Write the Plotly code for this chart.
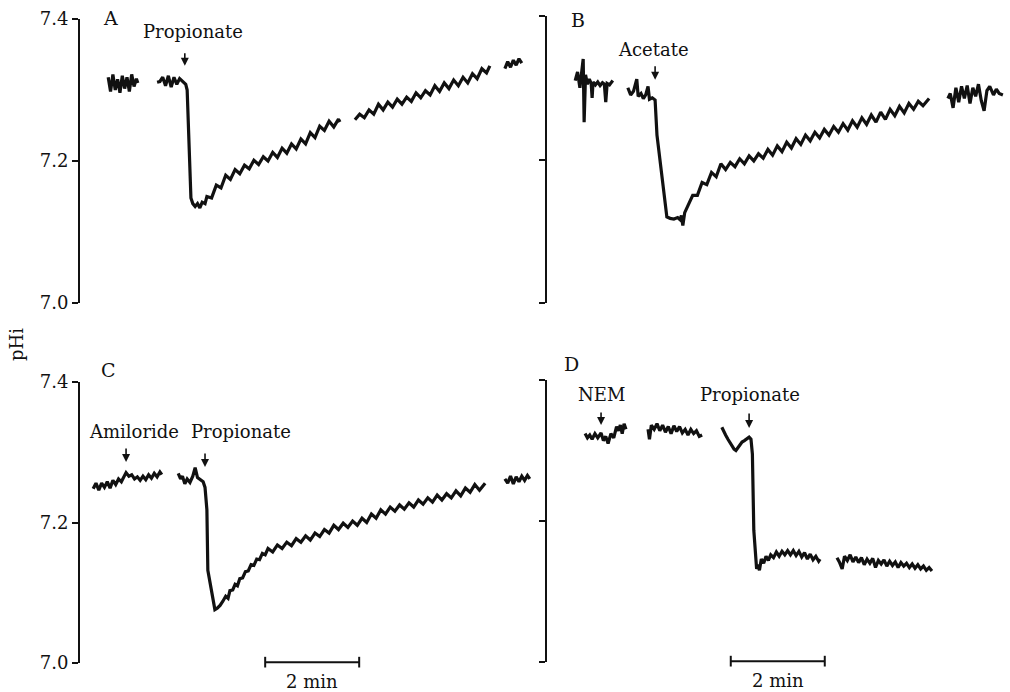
import plotly.graph_objects as go

# ---------------- data (time in min, pHi) ----------------
# Panel A : Propionate
A1_t = [0.60, 0.65, 0.70, 0.75, 0.80, 0.85, 0.90, 0.95, 1.00, 1.05, 1.10, 1.15, 1.20, 1.23]
A1_ph = [7.318, 7.298, 7.322, 7.300, 7.315, 7.296, 7.320, 7.302, 7.318, 7.298, 7.322, 7.305, 7.316, 7.310]
A2_t = [1.64, 1.70, 1.76, 1.82, 1.88, 1.94, 2.00, 2.06, 2.12, 2.19, 2.25, 2.28, 2.30, 2.32, 2.34, 2.36,
        2.40, 2.45, 2.50, 2.55, 2.60, 2.66,
        2.70, 2.80, 2.90, 3.00, 3.10, 3.20, 3.30, 3.40, 3.50, 3.60, 3.70, 3.80, 3.90, 4.00, 4.10, 4.20,
        4.30, 4.40, 4.50, 4.60, 4.70, 4.80, 4.90, 5.00, 5.10, 5.20, 5.30, 5.40, 5.50, 5.53]
A2_ph = [7.311, 7.312, 7.318, 7.306, 7.320, 7.304, 7.318, 7.308, 7.316, 7.312, 7.308, 7.300, 7.262, 7.215,
         7.162, 7.148, 7.140, 7.136, 7.140, 7.134, 7.142, 7.140,
         7.150, 7.148, 7.166, 7.162, 7.180, 7.174, 7.188, 7.182, 7.194, 7.189, 7.201, 7.195, 7.206, 7.200,
         7.212, 7.205, 7.218, 7.211, 7.224, 7.217, 7.231, 7.224, 7.240, 7.233, 7.249, 7.243, 7.256, 7.248,
         7.259, 7.255]
A3_t = [5.85, 5.95, 6.05, 6.15, 6.25, 6.35, 6.45, 6.55, 6.65, 6.75, 6.85, 6.95, 7.05, 7.15, 7.25, 7.35,
        7.45, 7.55, 7.65, 7.75, 7.85, 7.95, 8.05, 8.15, 8.25, 8.35, 8.45, 8.55, 8.65, 8.72]
A3_ph = [7.258, 7.266, 7.261, 7.272, 7.266, 7.280, 7.272, 7.283, 7.276, 7.287, 7.280, 7.290, 7.284, 7.296,
         7.289, 7.299, 7.293, 7.306, 7.298, 7.310, 7.302, 7.314, 7.306, 7.318, 7.310, 7.323, 7.316, 7.330,
         7.324, 7.334]
A4_t = [9.04, 9.10, 9.16, 9.22, 9.28, 9.34, 9.40]
A4_ph = [7.330, 7.340, 7.332, 7.342, 7.335, 7.344, 7.338]

# Panel B : Acetate
B1_t = [0.60, 0.65, 0.70, 0.74, 0.77, 0.79, 0.82, 0.86, 0.90, 0.94, 0.96, 0.98, 1.03, 1.08, 1.13, 1.18,
        1.22, 1.25, 1.28, 1.33, 1.40]
B1_ph = [7.310, 7.322, 7.300, 7.330, 7.340, 7.252, 7.318, 7.305, 7.312, 7.306, 7.286, 7.308, 7.304, 7.308,
         7.303, 7.307, 7.305, 7.280, 7.306, 7.304, 7.310]
B2_t = [1.72, 1.78, 1.84, 1.91, 1.94, 2.00, 2.05, 2.10, 2.15, 2.18, 2.24, 2.30, 2.34, 2.40, 2.45, 2.50,
        2.55, 2.62, 2.70, 2.78, 2.83, 2.86, 2.89, 2.93,
        3.00, 3.10, 3.20, 3.30, 3.40, 3.50, 3.60, 3.70, 3.80, 3.90, 4.00, 4.10, 4.20, 4.30, 4.40, 4.50,
        4.60, 4.70, 4.80, 4.90, 5.00, 5.10, 5.20, 5.30, 5.40, 5.50, 5.60, 5.70, 5.80, 5.90, 6.00, 6.10,
        6.20, 6.30, 6.40, 6.50, 6.60, 6.70, 6.80, 6.90, 7.00, 7.10, 7.20, 7.30, 7.40, 7.50, 7.60, 7.70,
        7.80, 7.90, 8.00, 8.13]
B2_ph = [7.300, 7.290, 7.295, 7.312, 7.288, 7.292, 7.285, 7.290, 7.302, 7.284, 7.286, 7.283, 7.234, 7.200,
         7.171, 7.140, 7.120, 7.118, 7.117, 7.119, 7.116, 7.122, 7.108, 7.126,
         7.135, 7.150, 7.150, 7.168, 7.165, 7.182, 7.176, 7.194, 7.186, 7.196, 7.190, 7.201, 7.194, 7.205,
         7.198, 7.208, 7.202, 7.214, 7.206, 7.219, 7.211, 7.224, 7.216, 7.229, 7.221, 7.234, 7.226, 7.238,
         7.230, 7.242, 7.234, 7.246, 7.238, 7.250, 7.241, 7.254, 7.245, 7.258, 7.249, 7.262, 7.252, 7.266,
         7.256, 7.270, 7.261, 7.274, 7.265, 7.278, 7.270, 7.281, 7.275, 7.285]
B3_t = [8.53, 8.58, 8.64, 8.70, 8.76, 8.82, 8.88, 8.94, 9.00, 9.06, 9.12, 9.18, 9.24, 9.30, 9.36, 9.42,
        9.50, 9.56, 9.62, 9.70]
B3_ph = [7.285, 7.292, 7.272, 7.300, 7.280, 7.302, 7.285, 7.303, 7.278, 7.300, 7.288, 7.305, 7.282, 7.268,
         7.296, 7.302, 7.290, 7.298, 7.292, 7.290]

# Panel C : Amiloride then Propionate
C1_t = [0.28, 0.34, 0.40, 0.46, 0.52, 0.58, 0.64, 0.70, 0.76, 0.82, 0.88, 0.94, 0.98, 1.04, 1.10, 1.16,
        1.22, 1.28, 1.34, 1.40, 1.46, 1.52, 1.58, 1.64, 1.70, 1.74]
C1_ph = [7.248, 7.256, 7.246, 7.256, 7.250, 7.258, 7.249, 7.260, 7.254, 7.262, 7.258, 7.266, 7.271, 7.266,
         7.268, 7.262, 7.265, 7.260, 7.266, 7.261, 7.268, 7.263, 7.270, 7.265, 7.272, 7.268]
C2_t = [2.09, 2.14, 2.18, 2.23, 2.28, 2.34, 2.40, 2.45, 2.50, 2.55, 2.62, 2.66, 2.70, 2.72, 2.77, 2.82,
        2.87, 2.92, 2.98, 3.04, 3.10, 3.15, 3.19, 3.25, 3.30, 3.35, 3.40, 3.46, 3.52, 3.58, 3.64, 3.70,
        3.76, 3.82, 3.88, 3.94, 4.00,
        4.10, 4.20, 4.30, 4.40, 4.50, 4.60, 4.70, 4.80, 4.90, 5.00, 5.10, 5.20, 5.30, 5.40, 5.50, 5.60,
        5.70, 5.80, 5.90, 6.00, 6.10, 6.20, 6.30, 6.40, 6.50, 6.60, 6.70, 6.80, 6.90, 7.00, 7.10, 7.20,
        7.30, 7.40, 7.50, 7.60, 7.70, 7.80, 7.90, 8.00, 8.10, 8.20, 8.30, 8.40, 8.50, 8.62]
C2_ph = [7.270, 7.262, 7.266, 7.255, 7.262, 7.257, 7.266, 7.278, 7.264, 7.262, 7.258, 7.250, 7.218, 7.132,
         7.114, 7.094, 7.076, 7.078, 7.082, 7.088, 7.095, 7.092, 7.103, 7.104, 7.112, 7.110, 7.120, 7.121,
         7.130, 7.131, 7.140, 7.139, 7.148, 7.147, 7.156, 7.154, 7.163,
         7.158, 7.168, 7.163, 7.172, 7.167, 7.177, 7.172, 7.181, 7.175, 7.185,
         7.180, 7.190, 7.185, 7.196, 7.190, 7.199, 7.193, 7.202, 7.196, 7.206,
         7.200, 7.212, 7.206, 7.218, 7.212, 7.222, 7.216, 7.225, 7.219, 7.228,
         7.222, 7.232, 7.226, 7.235, 7.229, 7.239, 7.232, 7.241, 7.235, 7.245,
         7.238, 7.249, 7.243, 7.254, 7.246, 7.256]
C3_t = [9.04, 9.10, 9.16, 9.22, 9.28, 9.34, 9.40, 9.46, 9.52, 9.57]
C3_ph = [7.262, 7.256, 7.266, 7.255, 7.265, 7.258, 7.266, 7.260, 7.267, 7.262]

# Panel D : NEM then Propionate
D1_t = [0.81, 0.86, 0.91, 0.96, 1.02, 1.08, 1.15, 1.20, 1.25, 1.30, 1.36, 1.42, 1.48, 1.52, 1.56, 1.60,
        1.64, 1.68]
D1_ph = [7.324, 7.318, 7.322, 7.316, 7.324, 7.318, 7.325, 7.314, 7.320, 7.310, 7.324, 7.318, 7.334, 7.328,
         7.336, 7.324, 7.338, 7.330]
D2_t = [2.15, 2.18, 2.22, 2.28, 2.34, 2.40, 2.46, 2.52, 2.58, 2.64, 2.70, 2.76, 2.82, 2.88, 2.94, 3.00,
        3.06, 3.12, 3.18, 3.24, 3.30]
D2_ph = [7.330, 7.316, 7.336, 7.330, 7.338, 7.328, 7.336, 7.326, 7.334, 7.324, 7.335, 7.327, 7.334, 7.325,
         7.330, 7.322, 7.330, 7.324, 7.328, 7.320, 7.322]
D3_t = [3.72, 3.76, 3.80, 3.85, 3.89, 3.94, 3.98, 4.02, 4.07, 4.11, 4.15, 4.20, 4.25, 4.30, 4.34, 4.37,
        4.40, 4.43, 4.46, 4.49, 4.52, 4.56, 4.61, 4.66, 4.71, 4.76, 4.82, 4.88, 4.94, 5.00, 5.06, 5.12,
        5.18, 5.24, 5.30, 5.36, 5.42, 5.48, 5.54, 5.60, 5.66, 5.72, 5.78, 5.81]
D3_ph = [7.333, 7.326, 7.322, 7.316, 7.312, 7.305, 7.302, 7.300, 7.304, 7.308,
         7.312, 7.314, 7.316, 7.319, 7.316, 7.295, 7.187, 7.150, 7.132, 7.138,
         7.130, 7.146, 7.140, 7.150, 7.144, 7.152, 7.148, 7.156, 7.150, 7.157,
         7.152, 7.158, 7.152, 7.158, 7.151, 7.157, 7.149, 7.155, 7.146, 7.153,
         7.145, 7.150, 7.143, 7.146]
D4_t = [6.17, 6.22, 6.28, 6.33, 6.39, 6.45, 6.51, 6.57, 6.63, 6.69, 6.75, 6.81, 6.87, 6.93, 6.99, 7.05,
        7.11, 7.17, 7.23, 7.29, 7.35, 7.41, 7.47, 7.53, 7.59, 7.65, 7.71, 7.77, 7.83, 7.89, 7.95, 8.01,
        8.07, 8.13, 8.19]
D4_ph = [7.148, 7.142, 7.132, 7.150, 7.144, 7.152, 7.142, 7.149, 7.141, 7.148,
         7.138, 7.146, 7.140, 7.147, 7.134, 7.144, 7.139, 7.145, 7.136, 7.143,
         7.137, 7.142, 7.134, 7.141, 7.136, 7.140, 7.134, 7.139, 7.133, 7.138,
         7.132, 7.136, 7.130, 7.134, 7.129]

y_ticks = [7.0, 7.2, 7.4]
y_ticktext = ["7.0", "7.2", "7.4"]
scale_bar_min = 2

panel_letters = ["A", "B", "C", "D"]

# ---------------- figure ----------------
SERIF = "DejaVu Serif"
INK = "#111111"

panels = [
    ("x", "y", [(A1_t, A1_ph), (A2_t, A2_ph), (A3_t, A3_ph), (A4_t, A4_ph)]),
    ("x2", "y2", [(B1_t, B1_ph), (B2_t, B2_ph), (B3_t, B3_ph)]),
    ("x3", "y3", [(C1_t, C1_ph), (C2_t, C2_ph), (C3_t, C3_ph)]),
    ("x4", "y4", [(D1_t, D1_ph), (D2_t, D2_ph), (D3_t, D3_ph), (D4_t, D4_ph)]),
]

fig = go.Figure()
for xa, ya, segs in panels:
    for t, ph in segs:
        assert len(t) == len(ph)
        fig.add_trace(go.Scatter(x=t, y=ph, xaxis=xa, yaxis=ya, mode="lines",
                                 line=dict(color=INK, width=3.2), hoverinfo="skip",
                                 showlegend=False))

W, H = 1010, 692
xl = [80 / W, 535 / W]
xr = [547 / W, 1005 / W]
x_left_range = [0, 455 / 47]
x_right_range = [0, 458 / 47]


def ydom(top_px, bot_px):
    return [1 - bot_px / H, 1 - top_px / H]


def yax(domain, anchor, labels):
    return dict(domain=domain, anchor=anchor, range=[7.0, 7.4], tickvals=y_ticks,
                ticktext=y_ticktext, showticklabels=labels, ticks="outside", ticklen=6,
                tickwidth=2, tickcolor=INK, showline=True, linewidth=2, linecolor=INK,
                showgrid=False, zeroline=False, automargin=False,
                tickfont=dict(family=SERIF, size=18, color=INK))


def xax(domain, anchor, rng):
    return dict(domain=domain, anchor=anchor, range=rng, visible=False, automargin=False,
                showgrid=False, zeroline=False)


fig.update_layout(
    template="none",
    width=W, height=H, margin=dict(l=0, r=0, t=0, b=0, pad=0, autoexpand=False),
    paper_bgcolor="white", plot_bgcolor="white", showlegend=False,
    xaxis=xax(xl, "y", x_left_range), yaxis=yax(ydom(19, 303), "x", True),
    xaxis2=xax(xr, "y2", x_right_range), yaxis2=yax(ydom(16, 303), "x2", False),
    xaxis3=xax(xl, "y3", x_left_range), yaxis3=yax(ydom(382, 663), "x3", True),
    xaxis4=xax(xr, "y4", x_right_range), yaxis4=yax(ydom(380, 662), "x4", False),
)

lab_font = dict(family=SERIF, size=18, color=INK)
annotations = []

# treatment labels (text) and arrows
labels = [
    ("x", "y", "Propionate", 2.40, 7.383),
    ("x2", "y2", "Acetate", 2.26, 7.354),
    ("x3", "y3", "Amiloride", 1.15, 7.329),
    ("x3", "y3", "Propionate", 3.43, 7.329),
    ("x4", "y4", "NEM", 1.17, 7.380),
    ("x4", "y4", "Propionate", 4.32, 7.380),
]
for xa, ya, txt, tx, ty in labels:
    annotations.append(dict(xref=xa, yref=ya, x=tx, y=ty, text=txt, showarrow=False,
                            font=lab_font, xanchor="center", yanchor="middle"))

arrows = [
    ("x", "y", 2.23, 7.334, -14),
    ("x2", "y2", 2.30, 7.311, -15),
    ("x3", "y3", 0.98, 7.286, -15),
    ("x3", "y3", 2.66, 7.279, -15),
    ("x4", "y4", 1.15, 7.336, -14),
    ("x4", "y4", 4.30, 7.332, -16),
]
for xa, ya, ax_t, ax_ph, dy in arrows:
    annotations.append(dict(xref=xa, yref=ya, x=ax_t, y=ax_ph, text="", showarrow=True,
                            ax=0, ay=dy, arrowhead=2, arrowsize=1, arrowwidth=1.6,
                            arrowcolor=INK))

# panel letters
letter_pos = [(110, 18), (578, 20), (108, 370), (571, 364)]
for letter, (px, py) in zip(panel_letters, letter_pos):
    annotations.append(dict(xref="paper", yref="paper", x=px / W, y=1 - py / H, text=letter,
                            showarrow=False, xanchor="center", yanchor="middle",
                            font=dict(family=SERIF, size=19, color=INK)))

# y label
annotations.append(dict(xref="paper", yref="paper", x=16 / W, y=1 - 345 / H, text="pHi",
                        textangle=-90, showarrow=False, xanchor="center", yanchor="middle",
                        font=dict(family=SERIF, size=18, color=INK)))

# scale bars (2 min) under C and D
shapes = []
for xa, ya, start in [("x3", "y3", 3.94), ("x4", "y4", 3.91)]:
    end = start + scale_bar_min
    yref = ya + " domain"
    shapes.append(dict(type="line", xref=xa, yref=yref, x0=start, x1=end, y0=0.003, y1=0.003,
                       line=dict(color=INK, width=2)))
    for xe in (start, end):
        shapes.append(dict(type="line", xref=xa, yref=yref, x0=xe, x1=xe, y0=-0.016, y1=0.022,
                           line=dict(color=INK, width=2)))
    annotations.append(dict(xref=xa, yref=yref, x=start + scale_bar_min / 2, y=0,
                            text=f"{scale_bar_min} min", showarrow=False, xanchor="center",
                            yanchor="middle", yshift=-18, font=lab_font))

fig.update_layout(annotations=annotations, shapes=shapes)
fig.write_html("out.html", config={"displayModeBar": False, "staticPlot": True},
               post_script="document.body.style.margin='0';"
                           "document.body.style.overflow='hidden';")
